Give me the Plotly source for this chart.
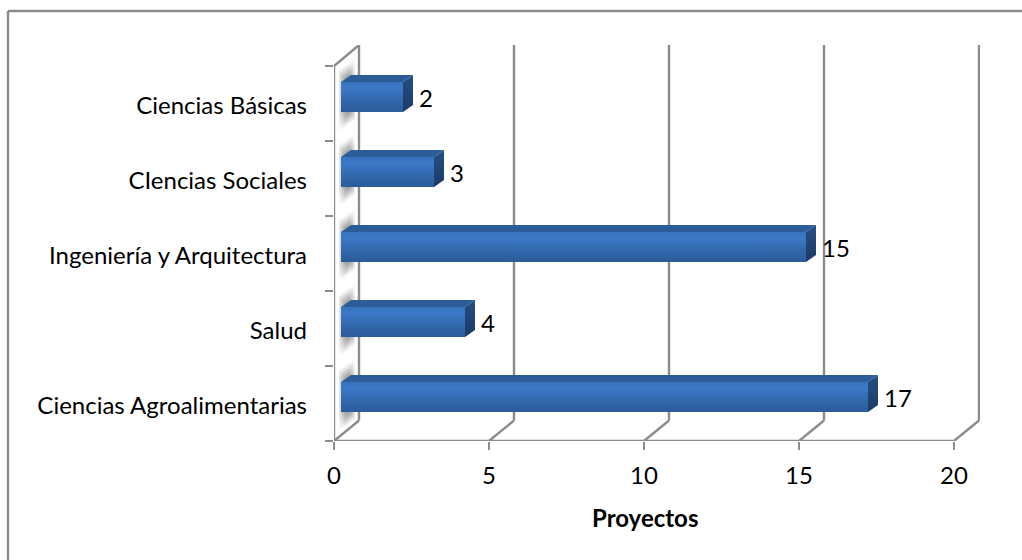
import plotly.graph_objects as go

# Data (bottom to top)
categories = ["Ciencias Agroalimentarias", "Salud", "Ingeniería y Arquitectura", "CIencias Sociales", "Ciencias Básicas"]
values = [17, 4, 15, 3, 2]
x_ticks = [0, 5, 10, 15, 20]
axis_title = "Proyectos"

# Pixel layout of the pseudo-3D box
L, R, T, B = 334, 980, 45, 441
PX_X = 31.0   # pixels per project
PX_Y = 75.0   # pixels per category
DEPTH_X = 25 / PX_X
DEPTH_Y = 20.5 / PX_Y
WALL_TOP = (B - T) / PX_Y
FRONT_TOP = len(categories)
BAR_OFF = 7 / PX_X
BAR_H = 30 / PX_Y
BAR_MID = 0.587
SIDE_X = 10 / PX_X
SIDE_Y = 7 / PX_Y
GRID = "#8c8c8c"
FONT = "Lato"
FS = 24

fig = go.Figure()
pos = [i + BAR_MID for i in range(len(categories))]


def poly(xs, ys, **kw):
    fig.add_trace(go.Scatter(x=xs + xs[:1], y=ys + ys[:1], mode="lines", fill="toself",
                             line=dict(width=0), hoverinfo="skip", showlegend=False, **kw))


def seg(xs, ys):
    fig.add_trace(go.Scatter(x=xs, y=ys, mode="lines", line=dict(color=GRID, width=2.4),
                             hoverinfo="skip", showlegend=False, cliponaxis=False))


# Real bars (front faces, refined by the gradient overlays)
fig.add_trace(go.Bar(y=pos, x=values, base=BAR_OFF, orientation="h", width=BAR_H,
                     marker=dict(color="#3369ae", line=dict(width=0)),
                     hovertemplate="%{x}<extra></extra>", showlegend=False))

# Walls and floor
for t in x_ticks:
    seg([t + DEPTH_X] * 2, [DEPTH_Y, WALL_TOP])
    seg([t, t + DEPTH_X], [0, DEPTH_Y])
seg([0, 0], [0, FRONT_TOP])
seg([0, DEPTH_X], [FRONT_TOP, WALL_TOP])
seg([0, x_ticks[-1]], [0, 0])

# Soft shadows on the left wall: stacked translucent layers fake a blur
for p in pos:
    for k in range(5):
        y0, y1 = p - BAR_H / 2 - (20 - 2 * k) / PX_Y, p + BAR_H / 2 + (24 - 2 * k) / PX_Y
        xa, xb = BAR_OFF + (-2 + 1.6 * k) / PX_X, BAR_OFF + (14 - 1.2 * k) / PX_X
        poly([xa, xb, xb, xa], [y0, y0 + 13 / PX_Y, y1, y1 - 13 / PX_Y],
             fillgradient=dict(type="vertical", colorscale=[
                 [0, "rgba(90,90,90,0)"], [0.25, "rgba(90,90,90,0.16)"],
                 [0.75, "rgba(90,90,90,0.16)"], [1, "rgba(90,90,90,0)"]]))

# Bar solids
for p, v in zip(pos, values):
    x0, x1 = BAR_OFF, BAR_OFF + v
    y0, y1 = p - BAR_H / 2, p + BAR_H / 2
    poly([x0, x0 + SIDE_X, x1 + SIDE_X, x1], [y1, y1 + SIDE_Y, y1 + SIDE_Y, y1], fillcolor="#2c5d98")
    poly([x1, x1 + SIDE_X, x1 + SIDE_X, x1], [y0, y0 + SIDE_Y, y1 + SIDE_Y, y1],
         fillgradient=dict(type="vertical", colorscale=[[0, "#1c3a66"], [1, "#264f84"]]))
    poly([x0, x1, x1, x0], [y0, y0, y1, y1],
         fillgradient=dict(type="vertical", colorscale=[
             [0, "#2b5b9a"], [0.4, "#3268ad"], [0.8, "#3b79c8"], [1, "#3872bd"]]))

# Data labels
fig.add_trace(go.Scatter(x=[BAR_OFF + v + 16 / PX_X for v in values], y=[p - 4 / PX_Y for p in pos],
                         mode="text", text=[str(v) for v in values], textposition="middle right",
                         textfont=dict(family=FONT, size=FS, color="#000000"),
                         hoverinfo="skip", showlegend=False, cliponaxis=False))

fig.update_layout(
    width=1022, height=560, margin=dict(l=L, r=1022 - R, t=T, b=560 - B),
    paper_bgcolor="white", plot_bgcolor="white", showlegend=False,
    font=dict(family=FONT, size=FS, color="#000000"),
    xaxis=dict(range=[0, (R - L) / PX_X], tickvals=x_ticks, ticks="outside", ticklen=8, tickwidth=2.4,
               tickcolor=GRID, showgrid=False, zeroline=False, showline=False, ticklabelstandoff=5),
    yaxis=dict(range=[0, WALL_TOP], tickmode="array", tickvals=[i + 0.47 for i in range(len(categories))],
               ticktext=categories, ticks="", showgrid=False, zeroline=False, showline=False,
               ticklabelstandoff=26,
               minor=dict(tickmode="array", tickvals=list(range(len(categories) + 1)), ticks="outside",
                          ticklen=8, tickwidth=2.4, tickcolor=GRID, showgrid=False)),
    annotations=[dict(text=f"<b>{axis_title}</b>", x=x_ticks[2] + 0.03, xref="x", y=(B - 517) / (B - T), yref="paper",
                      showarrow=False, xanchor="center", yanchor="middle", font=dict(size=24))],
    shapes=[
        dict(type="line", xref="paper", yref="paper", x0=(8 - L) / (R - L), x1=(1022 - L) / (R - L),
             y0=(B - 11) / (B - T), y1=(B - 11) / (B - T), line=dict(color=GRID, width=2.4)),
        dict(type="line", xref="paper", yref="paper", x0=(8 - L) / (R - L), x1=(8 - L) / (R - L),
             y0=(B - 11) / (B - T), y1=(B - 560) / (B - T), line=dict(color=GRID, width=2.4)),
    ],
)
fig.write_html("out.html", config=dict(displayModeBar=False),
               post_script="document.body.style.margin='0';document.documentElement.style.overflow='hidden';")
